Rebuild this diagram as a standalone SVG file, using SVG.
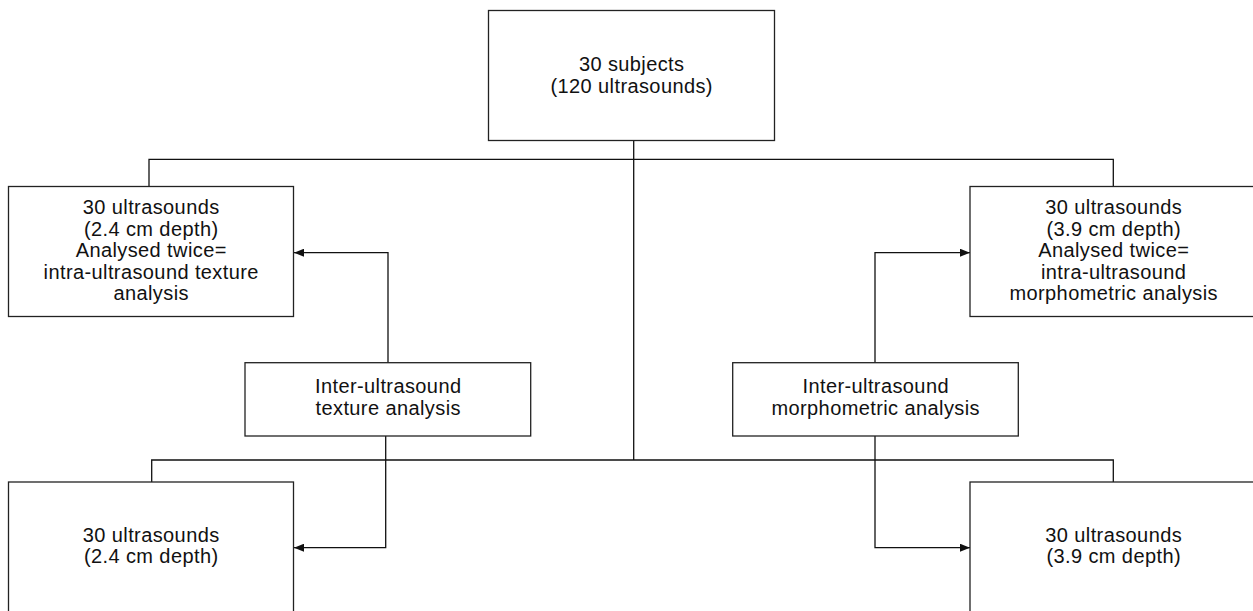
<svg xmlns="http://www.w3.org/2000/svg" width="1253" height="611" viewBox="0 0 1253 611">
<style>
.box{fill:#fff;stroke:#222;stroke-width:1.3}
.ln{fill:none;stroke:#111;stroke-width:1.3}
text{font-family:"Liberation Sans",Arial,sans-serif;font-size:20px;letter-spacing:0.4px;fill:#111;text-anchor:middle}
</style>
<defs>
<marker id="ah" viewBox="0 0 10 8" refX="10" refY="4" markerWidth="10" markerHeight="8" markerUnits="userSpaceOnUse" orient="auto">
<path d="M0,0 L10,4 L0,8 Z" fill="#111"/>
</marker>
</defs>
<rect width="1253" height="611" fill="#fff"/>
<g id="connectors">
<path class="ln" d="M633.7,140.5 V460"/>
<path class="ln" d="M149,186.5 V159.3 H1113.3 V186.5"/>
<path class="ln" d="M151.7,482 V460 H1113.3 V482"/>
<path class="ln" d="M388,362.7 V252.7 H294" marker-end="url(#ah)"/>
<path class="ln" d="M385.7,436 V547.7 H294" marker-end="url(#ah)"/>
<path class="ln" d="M875,362.7 V252.7 H970" marker-end="url(#ah)"/>
<path class="ln" d="M875,436 V547.7 H970" marker-end="url(#ah)"/>
</g>
<g id="n-top">
<rect class="box" x="488.5" y="10.5" width="286" height="130"/>
<text x="631.7" y="70.7">30 subjects</text>
<text x="631.7" y="92.5">(120 ultrasounds)</text>
</g>
<g id="n-left-top">
<rect class="box" x="8.5" y="186.5" width="285" height="130"/>
<text x="151.2" y="214">30 ultrasounds</text>
<text x="151.2" y="235.5">(2.4 cm depth)</text>
<text x="151.2" y="257">Analysed twice=</text>
<text x="151.2" y="278.5">intra-ultrasound texture</text>
<text x="151.2" y="300">analysis</text>
</g>
<g id="n-right-top">
<rect class="box" x="970" y="186.5" width="287" height="130"/>
<text x="1113.7" y="214">30 ultrasounds</text>
<text x="1113.7" y="235.5">(3.9 cm depth)</text>
<text x="1113.7" y="257">Analysed twice=</text>
<text x="1113.7" y="278.5">intra-ultrasound</text>
<text x="1113.7" y="300">morphometric analysis</text>
</g>
<g id="n-inter-left">
<rect class="box" x="245" y="362.7" width="285.7" height="73.3"/>
<text x="388.2" y="393.3">Inter-ultrasound</text>
<text x="388.2" y="415">texture analysis</text>
</g>
<g id="n-inter-right">
<rect class="box" x="732.7" y="362.7" width="285.6" height="73.3"/>
<text x="875.7" y="393.3">Inter-ultrasound</text>
<text x="875.7" y="415">morphometric analysis</text>
</g>
<g id="n-left-bottom">
<rect class="box" x="8.5" y="482" width="285" height="150"/>
<text x="151.2" y="541.7">30 ultrasounds</text>
<text x="151.2" y="563.3">(2.4 cm depth)</text>
</g>
<g id="n-right-bottom">
<rect class="box" x="970" y="482" width="287" height="150"/>
<text x="1113.7" y="541.7">30 ultrasounds</text>
<text x="1113.7" y="563.3">(3.9 cm depth)</text>
</g>
</svg>
